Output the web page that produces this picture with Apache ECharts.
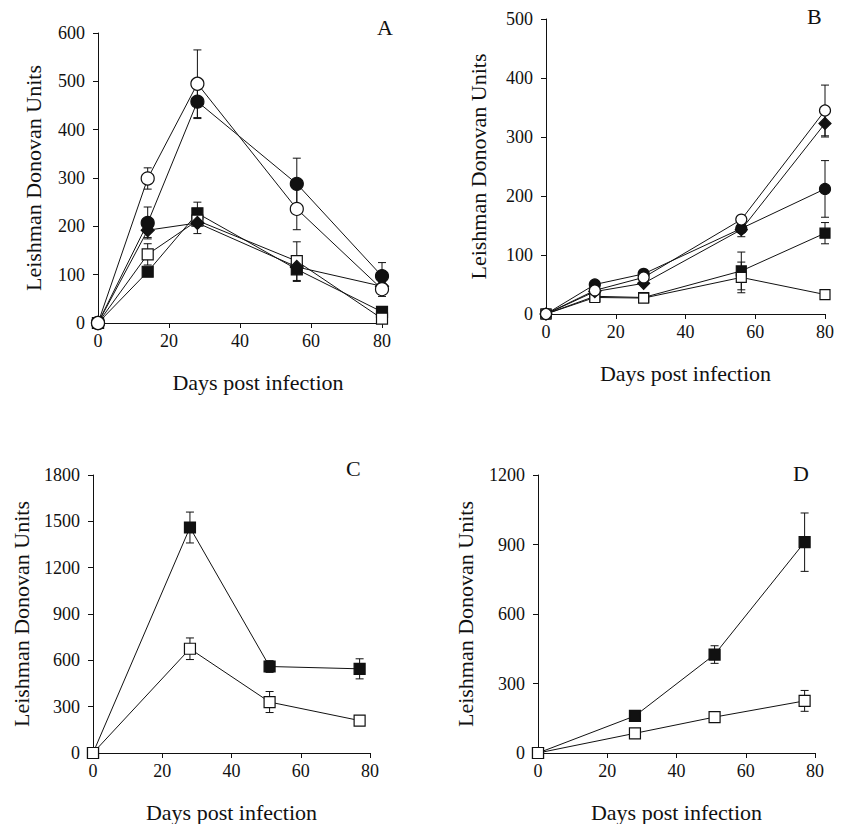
<!DOCTYPE html>
<html lang="en">
  <head>
    <meta charset="UTF-8" />
    <title>Leishman Donovan Units</title>
    <script src="https://cdn.jsdelivr.net/npm/echarts@6/dist/echarts.min.js"></script>
    <style>
      html, body { margin: 0; padding: 0; background: #fff; }
      #chart { width: 845px; height: 824px; }
    </style>
  </head>
  <body>
    <div id="chart"></div>
    <script>
      // days sampled
      var daysAB = [0, 14, 28, 56, 80];
      var daysCD = [0, 28, 51, 77];

      // panel A
      var aOpenCircle = [0, 299, 495, 236, 70];
      var aOpenCircleErr = [0, 22, 70, 43, 15];
      var aFilledCircle = [0, 207, 458, 288, 97];
      var aFilledCircleErr = [0, 33, 35, 53, 28];
      var aDiamond = [0, 192, 207, 116, 76];
      var aDiamondErr = [0, 15, 22, 0, 0];
      var aOpenSquare = [0, 142, 212, 128, 9];
      var aOpenSquareErr = [0, 22, 0, 40, 0];
      var aFilledSquare = [0, 106, 227, 111, 23];
      var aFilledSquareErr = [0, 0, 23, 25, 0];

      // panel B
      var bOpenCircle = [0, 40, 62, 160, 345];
      var bOpenCircleErr = [0, 0, 0, 0, 43];
      var bDiamond = [0, 38, 52, 143, 323];
      var bDiamondErr = [0, 0, 0, 12, 23];
      var bFilledCircle = [0, 50, 68, 145, 212];
      var bFilledCircleErr = [0, 0, 0, 0, 48];
      var bFilledSquare = [0, 30, 28, 73, 137];
      var bFilledSquareErr = [0, 0, 0, 32, 18];
      var bOpenSquare = [0, 28, 27, 62, 33];
      var bOpenSquareErr = [0, 0, 0, 26, 0];

      // panel C
      var cFilledSquare = [0, 1460, 560, 545];
      var cFilledSquareErr = [0, 100, 38, 65];
      var cOpenSquare = [0, 675, 330, 210];
      var cOpenSquareErr = [0, 70, 68, 0];

      // panel D
      var dFilledSquare = [0, 160, 425, 910];
      var dFilledSquareErr = [0, 0, 38, 126];
      var dOpenSquare = [0, 85, 155, 225];
      var dOpenSquareErr = [0, 0, 0, 45];

      // tick settings
      var yTicksA = { max: 600, interval: 100 };
      var yTicksB = { max: 500, interval: 100 };
      var yTicksC = { max: 1800, interval: 300 };
      var yTicksD = { max: 1200, interval: 300 };

      var serif = "'Liberation Serif', 'Times New Roman', serif";
      var ink = "#111";

      function pairs(xs, ys, errs) {
        return xs.map(function (x, i) { return [x, ys[i], errs ? errs[i] : 0]; });
      }

      function plain(v) {
        return String(v);
      }

      function lineSeries(idx, xs, ys, symbol, filled, size) {
        return {
          type: "line",
          xAxisIndex: idx,
          yAxisIndex: idx,
          data: pairs(xs, ys),
          symbol: symbol,
          symbolSize: size,
          showAllSymbol: true,
          z: 3,
          lineStyle: { color: ink, width: 1 },
          itemStyle: { color: filled ? ink : "#fff", borderColor: ink, borderWidth: 1.2, opacity: 1 },
          emphasis: { disabled: true },
        };
      }

      function errSeries(idx, xs, ys, errs) {
        return {
          type: "custom",
          xAxisIndex: idx,
          yAxisIndex: idx,
          z: 1,
          data: pairs(xs, ys, errs),
          renderItem: function (params, api) {
            var e = api.value(2);
            if (!e) return;
            var x = api.value(0), y = api.value(1);
            var top = api.coord([x, y + e]);
            var bot = api.coord([x, y - e]);
            var st = { stroke: ink, lineWidth: 1 };
            return {
              type: "group",
              children: [
                { type: "line", shape: { x1: top[0], y1: top[1], x2: bot[0], y2: bot[1] }, style: st },
                { type: "line", shape: { x1: top[0] - 4, y1: top[1], x2: top[0] + 4, y2: top[1] }, style: st },
                { type: "line", shape: { x1: bot[0] - 4, y1: bot[1], x2: bot[0] + 4, y2: bot[1] }, style: st },
              ],
            };
          },
        };
      }

      function xAxis(idx, namePad) {
        return {
          type: "value",
          gridIndex: idx,
          min: 0,
          max: 80,
          interval: 20,
          name: "Days post infection",
          nameLocation: "middle",
          nameGap: 48,
          nameTextStyle: { fontFamily: serif, fontSize: 22, color: ink, padding: namePad || 0 },
          axisLine: { show: true, lineStyle: { color: ink, width: 1 } },
          axisTick: { show: true, length: 5, lineStyle: { color: ink } },
          axisLabel: { fontFamily: serif, fontSize: 18, color: ink, margin: 9, formatter: plain },
          splitLine: { show: false },
        };
      }

      function yAxis(idx, ticks, gap) {
        return {
          type: "value",
          gridIndex: idx,
          min: 0,
          max: ticks.max,
          interval: ticks.interval,
          name: "Leishman Donovan Units",
          nameLocation: "middle",
          nameGap: gap,
          nameTextStyle: { fontFamily: serif, fontSize: 22, color: ink },
          axisLine: { show: true, lineStyle: { color: ink, width: 1 } },
          axisTick: { show: true, length: 5, lineStyle: { color: ink } },
          axisLabel: { fontFamily: serif, fontSize: 18, color: ink, margin: 13, formatter: plain },
          splitLine: { show: false },
        };
      }

      function letter(text, left, top) {
        return {
          text: text,
          left: left,
          top: top,
          padding: 0,
          textStyle: { fontFamily: serif, fontSize: 22, fontWeight: "normal", color: ink },
        };
      }

      var chart = echarts.init(document.getElementById("chart"), null, { renderer: "svg" });

      var option = {
        backgroundColor: "#fff",
        animation: false,
        title: [
          letter("A", 377, 16),
          letter("B", 807, 5),
          letter("C", 346, 457),
          letter("D", 793, 462),
        ],
        grid: [
          { left: 98, top: 33, width: 284, height: 290 },
          { left: 546, top: 19, width: 279, height: 295 },
          { left: 93, top: 475, width: 277, height: 280 },
          { left: 538, top: 475, width: 277, height: 284 },
        ],
        xAxis: [xAxis(0, [0, 0, 0, 36]), xAxis(1), xAxis(2), xAxis(3)],
        yAxis: [yAxis(0, yTicksA, 54), yAxis(1, yTicksB, 57), yAxis(2, yTicksC, 61), yAxis(3, yTicksD, 62)],
        series: [
          // A
          errSeries(0, daysAB, aOpenCircle, aOpenCircleErr),
          errSeries(0, daysAB, aFilledCircle, aFilledCircleErr),
          errSeries(0, daysAB, aDiamond, aDiamondErr),
          errSeries(0, daysAB, aOpenSquare, aOpenSquareErr),
          errSeries(0, daysAB, aFilledSquare, aFilledSquareErr),
          lineSeries(0, daysAB, aFilledSquare, "rect", true, 11),
          lineSeries(0, daysAB, aOpenSquare, "rect", false, 11),
          lineSeries(0, daysAB, aDiamond, "diamond", true, 13),
          lineSeries(0, daysAB, aFilledCircle, "circle", true, 13),
          lineSeries(0, daysAB, aOpenCircle, "circle", false, 13),
          // B
          errSeries(1, daysAB, bOpenCircle, bOpenCircleErr),
          errSeries(1, daysAB, bDiamond, bDiamondErr),
          errSeries(1, daysAB, bFilledCircle, bFilledCircleErr),
          errSeries(1, daysAB, bFilledSquare, bFilledSquareErr),
          errSeries(1, daysAB, bOpenSquare, bOpenSquareErr),
          lineSeries(1, daysAB, bFilledSquare, "rect", true, 10),
          lineSeries(1, daysAB, bOpenSquare, "rect", false, 10),
          lineSeries(1, daysAB, bFilledCircle, "circle", true, 11),
          lineSeries(1, daysAB, bDiamond, "diamond", true, 12),
          lineSeries(1, daysAB, bOpenCircle, "circle", false, 11),
          // C
          errSeries(2, daysCD, cFilledSquare, cFilledSquareErr),
          errSeries(2, daysCD, cOpenSquare, cOpenSquareErr),
          lineSeries(2, daysCD, cFilledSquare, "rect", true, 11),
          lineSeries(2, daysCD, cOpenSquare, "rect", false, 11),
          // D
          errSeries(3, daysCD, dFilledSquare, dFilledSquareErr),
          errSeries(3, daysCD, dOpenSquare, dOpenSquareErr),
          lineSeries(3, daysCD, dFilledSquare, "rect", true, 11),
          lineSeries(3, daysCD, dOpenSquare, "rect", false, 11),
        ],
      };

      chart.setOption(option);
    </script>
  </body>
</html>
